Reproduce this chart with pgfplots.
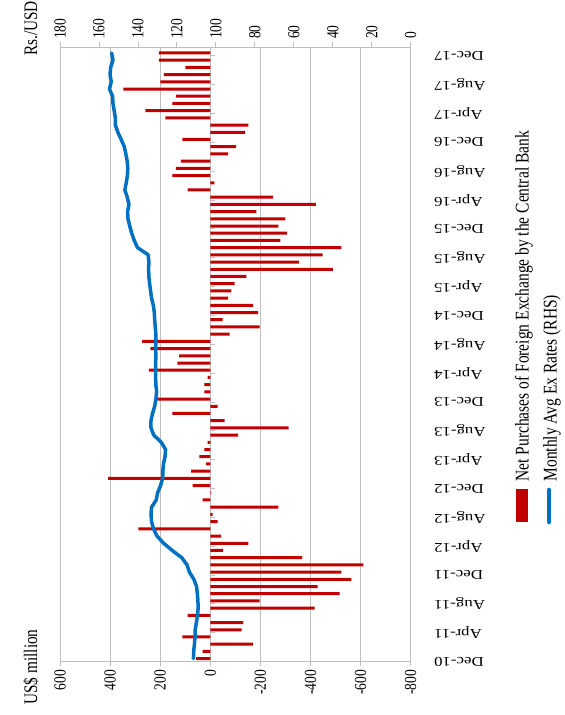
\documentclass[border=0pt]{standalone}
\usepackage{pgfplots}
\pgfplotsset{compat=1.18}
\usepackage{fontspec}
\setmainfont{Liberation Serif}
\definecolor{barred}{RGB}{192,0,0}
\definecolor{lineblue}{RGB}{0,112,192}
\definecolor{gridgray}{RGB}{191,191,191}
\begin{document}
\begin{tikzpicture}
\useasboundingbox (0,0) rectangle (565pt,715pt);
\begin{axis}[
  at={(60pt,53.5pt)}, anchor=south west,
  scale only axis, width=350.7pt, height=614pt,
  xmin=-800, xmax=600, x dir=reverse,
  ymin=-0.4, ymax=84.76,
  xtick={-800,-600,-400,-200,0,200,400,600},
  xmajorgrids, grid style={gridgray, line width=0.8pt},
  axis line style={gridgray, line width=0.8pt},
  xtick pos=bottom, tick align=outside,
  x tick style={gridgray, line width=0.8pt}, major tick length=5pt,
  y tick style={draw=none},
  /pgf/number format/assume math mode=true,
  xticklabel style={font=\fontsize{13.5}{14}\selectfont, xscale=1.25, rotate=90, anchor=east},
  ytick={-0.4,3.6,7.6,11.6,15.6,19.6,23.6,27.6,31.6,35.6,39.6,43.6,47.6,51.6,55.6,59.6,63.6,67.6,71.6,75.6,79.6,83.6},
  yticklabels={Dec-10,Apr-11,Aug-11,Dec-11,Apr-12,Aug-12,Dec-12,Apr-13,Aug-13,Dec-13,Apr-14,Aug-14,Dec-14,Apr-15,Aug-15,Dec-15,Apr-16,Aug-16,Dec-16,Apr-17,Aug-17,Dec-17},
  yticklabel pos=right,
  yticklabel style={font=\fontsize{13.5}{14}\selectfont, xscale=1.25, rotate=180, anchor=east},
  yticklabel shift=14pt,
  clip=false,
]
\addplot[xbar, bar width=3pt, fill=barred, draw=none] coordinates {
(57,0) (31,1) (-171,2) (111,3) (-125,4) (-132,5) (91,6) (-416,7) (-197,8) (-516,9)
(-428,10) (-563,11) (-523,12) (-611,13) (-367,14) (-51,15) (-152,16) (-43,17) (287,18) (-29,19)
(-9,20) (-272,21) (31,22) (-3,23) (71,24) (408,25) (77,26) (17,27) (44,28) (24,29)
(11,30) (-111,31) (-313,32) (-57,33) (151,34) (-29,35) (213,36) (24,37) (24,38) (11,39)
(245,40) (131,41) (124,42) (239,43) (272,44) (-77,45) (-197,46) (-49,47) (-191,48) (-171,49)
(-71,50) (-84,51) (-97,52) (-144,53) (-489,54) (-355,55) (-448,56) (-523,57) (-280,58) (-307,59)
(-272,60) (-300,61) (-184,62) (-421,63) (-251,64) (91,65) (-16,66) (151,67) (137,68) (117,69)
(-71,70) (-103,71) (111,72) (-139,73) (-152,74) (179,75) (259,76) (151,77) (137,78) (347,79)
(199,80) (185,81) (99,82) (205,83) (205,84)
};
\pgfplotsinvokeforeach{0,...,21}{
  \draw[gridgray, line width=0.8pt] (axis cs:0,{4*#1-0.4}) -- (axis cs:-20,{4*#1-0.4});
}
\end{axis}
\begin{axis}[
  at={(60pt,53.5pt)}, anchor=south west,
  scale only axis, width=350.7pt, height=614pt,
  xmin=0, xmax=180, x dir=reverse,
  ymin=-0.4, ymax=84.76,
  axis x line*=top, axis y line=none,
  axis line style={gridgray, line width=0.8pt},
  xtick={0,20,...,180}, tick align=outside,
  x tick style={gridgray, line width=0.8pt}, major tick length=5pt,
  /pgf/number format/assume math mode=true,
  xticklabel style={font=\fontsize{13.5}{14}\selectfont, xscale=1.25, rotate=90, anchor=west},
]
\addplot[lineblue, line width=3.5pt, line join=round, line cap=round] coordinates {
(111.5,0) (111.4,1) (111.0,2) (110.7,3) (110.6,4) (110.0,5) (109.4,6) (109.1,7) (109.2,8) (109.5,9)
(109.9,10) (111.3,11) (113.6,12) (114.8,13) (117.5,14) (122.4,15) (126.8,16) (130.2,17) (132.0,18) (133.0,19)
(133.3,20) (133.0,21) (130.6,22) (129.9,23) (128.4,24) (127.3,25) (127.2,26) (126.9,27) (126.1,28) (125.8,29)
(128.0,30) (131.9,31) (133.3,32) (133.3,33) (132.5,34) (131.4,35) (130.8,36) (130.4,37) (130.8,38) (130.9,39)
(130.9,40) (130.9,41) (130.8,42) (130.9,43) (130.8,44) (130.8,45) (131.1,46) (131.4,47) (131.6,48) (132.1,49)
(133.0,50) (133.5,51) (134.0,52) (134.4,53) (134.5,54) (134.4,55) (134.7,56) (140.2,57) (141.9,58) (143.2,59)
(144.2,60) (145.1,61) (145.3,62) (144.6,63) (145.5,64) (146.7,65) (146.0,66) (145.4,67) (145.2,68) (145.5,69)
(146.2,70) (147.0,71) (148.6,72) (150.3,73) (151.6,74) (151.6,75) (152.2,76) (152.8,77) (153.0,78) (154.6,79)
(153.7,80) (154.3,81) (154.0,82) (152.8,83) (153.5,84)
};
\end{axis}
\node[font=\fontsize{15.3}{16}\selectfont, xscale=1.25, rotate=90] at (31pt,686.5pt) {Rs./USD};
\node[font=\fontsize{15.3}{16}\selectfont, xscale=1.25, rotate=90] at (31pt,48pt) {US\$ million};
\fill[barred] (516pt,193pt) rectangle (527.7pt,226pt);
\node[font=\fontsize{15.5}{16}\selectfont, xscale=1.25, rotate=90, anchor=west] at (524pt,230pt) {Net Purchases of Foreign Exchange by the Central Bank};
\draw[lineblue, line width=4.5pt, line cap=round] (549.2pt,193pt) -- (549.2pt,225pt);
\node[font=\fontsize{15.5}{16}\selectfont, xscale=1.25, rotate=90, anchor=west] at (552pt,230pt) {Monthly Avg Ex Rates (RHS)};
\end{tikzpicture}
\end{document}
